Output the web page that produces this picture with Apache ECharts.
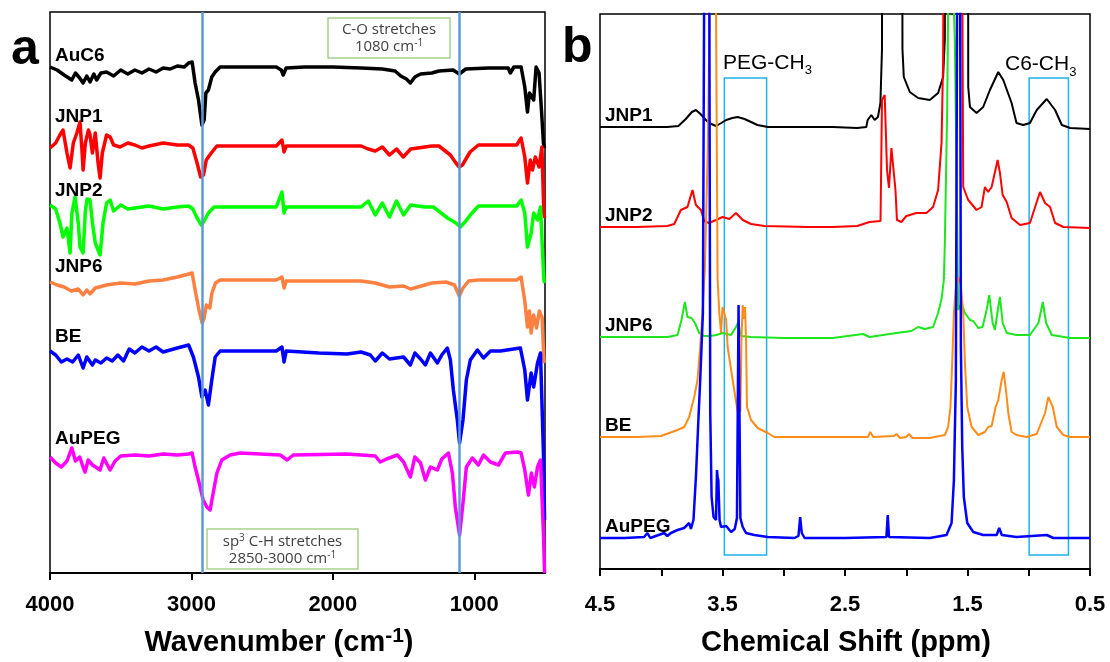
<!DOCTYPE html>
<html><head><meta charset="utf-8">
<script src="https://cdn.jsdelivr.net/npm/echarts@6/dist/echarts.min.js"></script>
<style>html,body{margin:0;padding:0;background:#fff}#c{width:1110px;height:662px}</style>
</head><body><div id="c"></div>
<script>
// ---------- Panel a: FTIR (x = wavenumber cm-1, y = offset intensity, arbitrary units) ----------
const irTicks = [4000, 3000, 2000, 1000];
const irMarkers = [2920, 1105];
const irAuC6 = [[4000,506],[3950,503],[3900,498],[3846,493],[3820,500],[3790,495],[3766,490],[3740,497],[3717,491],[3690,499],[3670,493],[3640,500],[3600,501],[3550,497],[3500,503],[3450,499],[3400,503],[3350,500],[3300,504],[3250,501],[3200,505],[3150,504],[3100,507],[3050,506],[3020,510],[2995,511],[2974,490],[2950,473],[2926,448],[2910,453],[2898,480],[2880,483],[2856,496],[2832,501],[2797,506],[2600,506],[2400,506],[2365,503],[2351,498],[2330,505],[2200,506],[2000,506],[1800,505],[1650,504],[1560,502],[1520,497],[1480,494],[1452,490],[1420,496],[1380,499],[1300,500],[1250,502],[1150,503],[1106,499],[1060,504],[900,505],[760,505],[745,500],[720,506],[669,506],[643,486],[624,461],[610,480],[598,480],[580,473],[563,506],[542,500],[525,463],[511,430],[503,425]];
const irJNP1 = [[4000,425],[3960,430],[3930,438],[3908,443],[3880,420],[3858,405],[3835,430],[3810,440],[3788,451],[3775,425],[3766,403],[3750,430],[3728,443],[3717,438],[3700,420],[3680,440],[3660,410],[3646,395],[3630,420],[3600,438],[3575,436],[3550,428],[3505,426],[3450,430],[3400,428],[3350,425],[3300,427],[3200,430],[3100,428],[3020,428],[2990,425],[2960,410],[2935,396],[2915,398],[2895,413],[2860,420],[2820,427],[2400,427],[2360,433],[2345,421],[2330,427],[1800,427],[1750,424],[1700,422],[1650,426],[1600,418],[1550,424],[1502,416],[1450,424],[1300,427],[1250,427],[1169,418],[1130,410],[1106,406],[1084,408],[1030,421],[971,428],[700,428],[669,435],[643,416],[624,390],[604,413],[589,403],[568,416],[542,406],[522,426],[508,360],[503,355]];
const irJNP2 = [[4000,368],[3960,364],[3930,350],[3908,336],[3880,345],[3858,320],[3845,360],[3823,376],[3800,350],[3788,326],[3766,320],[3750,362],[3738,374],[3717,373],[3700,350],[3680,330],[3646,318],[3625,350],[3600,370],[3575,373],[3550,362],[3500,368],[3450,364],[3400,365],[3300,367],[3200,364],[3100,366],[3020,367],[2990,364],[2960,355],[2930,348],[2910,352],[2880,360],[2840,366],[2400,366],[2360,381],[2345,360],[2330,366],[1800,366],[1750,372],[1700,358],[1650,370],[1600,356],[1550,372],[1500,358],[1450,368],[1350,366],[1289,366],[1190,355],[1130,350],[1098,346],[1060,352],[1028,358],[971,367],[700,367],[669,373],[643,360],[624,326],[598,340],[580,360],[553,353],[532,366],[518,367],[508,293],[503,290]];
const irJNP6 = [[4000,291],[3950,288],[3900,286],[3850,282],[3800,284],[3766,278],[3740,283],[3717,279],[3680,285],[3600,288],[3500,290],[3400,289],[3300,292],[3200,293],[3100,296],[3020,299],[2995,300],[2970,280],[2945,262],[2924,250],[2910,255],[2895,268],[2870,265],[2855,280],[2830,290],[2797,293],[2400,293],[2360,296],[2345,285],[2330,292],[1800,292],[1700,290],[1600,286],[1500,287],[1450,284],[1300,290],[1200,291],[1140,288],[1106,277],[1080,285],[1040,292],[971,293],[700,293],[669,296],[643,272],[624,246],[610,262],[598,240],[580,258],[560,245],[540,262],[520,255],[508,213],[503,210]];
const irBE = [[4000,222],[3960,218],[3920,211],[3880,214],[3840,211],[3800,218],[3766,205],[3740,216],[3700,208],[3680,213],[3640,210],[3600,215],[3560,212],[3520,218],[3480,212],[3440,224],[3400,220],[3350,226],[3300,222],[3250,226],[3200,221],[3100,225],[3020,228],[2986,216],[2950,196],[2926,176],[2903,183],[2880,168],[2856,193],[2832,216],[2797,222],[2400,222],[2360,226],[2345,211],[2330,222],[2100,220],[1900,219],[1800,221],[1735,218],[1700,212],[1650,220],[1600,214],[1500,216],[1452,208],[1420,220],[1380,214],[1346,208],[1310,220],[1261,210],[1230,218],[1191,225],[1169,213],[1148,183],[1120,153],[1104,130],[1080,153],[1056,193],[1028,213],[978,223],[935,215],[886,222],[815,222],[674,225],[669,225],[643,203],[624,173],[598,200],[580,186],[553,210],[532,220],[511,120],[503,53]];
const irAuPEG = [[4000,116],[3960,110],[3920,106],[3880,112],[3846,125],[3820,112],[3790,116],[3766,106],[3752,101],[3730,113],[3700,108],[3646,103],[3620,115],[3575,103],[3540,112],[3500,117],[3400,118],[3300,117],[3200,119],[3100,118],[3020,119],[2995,120],[2974,106],[2945,90],[2917,73],[2891,66],[2868,63],[2846,80],[2820,100],[2785,113],[2726,118],[2655,120],[2372,118],[2323,113],[2280,118],[1900,119],[1700,117],[1665,111],[1620,114],[1544,118],[1500,111],[1452,96],[1420,116],[1380,110],[1346,93],[1310,106],[1261,103],[1230,114],[1183,120],[1155,100],[1134,66],[1104,38],[1080,70],[1056,106],[1014,115],[971,108],[935,118],[886,111],[829,108],[780,120],[695,121],[669,120],[643,103],[617,78],[596,100],[575,86],[553,106],[532,113],[511,40],[503,0]];

// ---------- Panel b: 1H NMR (x = ppm, y = offset intensity, arbitrary units) ----------
const nmrLabels = [4.5, 3.5, 2.5, 1.5, 0.5];
const nmrTicks = [4.5, 4.0, 3.5, 3.0, 2.5, 2.0, 1.5, 1.0, 0.5];
const pegBox = [3.485, 3.14];
const c6Box = [0.997, 0.676];
const boxY = [14, 491];
const nmrJNP1 = [[4.5,442],[4.2,442],[3.95,442],[3.86,443],[3.8,450],[3.75,457],[3.717,459],[3.68,455],[3.635,449],[3.61,446],[3.553,443],[3.51,446],[3.47,449],[3.42,451],[3.376,452],[3.32,450],[3.267,447],[3.215,444],[3.13,442],[2.8,442],[2.6,442],[2.4,441],[2.326,442],[2.315,449],[2.285,454],[2.258,449],[2.231,452],[2.211,466],[2.198,520],[2.19,1500],[2.04,1500],[2.031,520],[2.02,492],[1.971,477],[1.903,471],[1.808,469],[1.74,476],[1.699,492],[1.685,530],[1.677,1500],[1.50,1500],[1.494,482],[1.48,462],[1.426,456],[1.372,462],[1.317,479],[1.249,497],[1.208,489],[1.14,466],[1.1,446],[1.045,444],[0.99,446],[0.935,459],[0.853,470],[0.785,459],[0.73,444],[0.662,441],[0.5,440]];
const nmrJNP2 = [[4.5,342],[4.2,342],[3.95,343],[3.894,345],[3.84,359],[3.786,362],[3.745,379],[3.717,364],[3.676,359],[3.65,348],[3.61,346],[3.553,349],[3.499,352],[3.444,350],[3.39,356],[3.335,349],[3.267,345],[3.158,343],[2.8,342],[2.6,342],[2.4,343],[2.3,347],[2.21,348],[2.198,469],[2.176,474],[2.157,399],[2.141,381],[2.121,421],[2.108,420],[2.088,379],[2.076,349],[2.04,347],[1.999,353],[1.917,356],[1.835,356],[1.781,362],[1.74,379],[1.712,426],[1.699,509],[1.69,800],[1.55,800],[1.535,382],[1.494,369],[1.426,359],[1.385,362],[1.358,382],[1.331,377],[1.303,382],[1.254,409],[1.235,396],[1.213,374],[1.18,367],[1.14,351],[1.071,344],[0.99,346],[0.935,367],[0.908,377],[0.867,366],[0.826,362],[0.785,346],[0.717,342],[0.5,341]];
const nmrJNP6 = [[4.5,232],[4.2,232],[3.95,232],[3.867,234],[3.835,249],[3.807,267],[3.786,252],[3.753,251],[3.725,246],[3.69,236],[3.65,233],[3.6,233],[3.55,234],[3.499,236],[3.43,234],[3.39,242],[3.371,247],[3.349,233],[3.267,232],[3.0,231],[2.6,231],[2.353,235],[2.3,232],[2.08,236],[1.958,238],[1.903,242],[1.849,240],[1.781,242],[1.74,256],[1.712,270],[1.693,289],[1.685,326],[1.666,459],[1.658,560],[1.635,1200],[1.611,560],[1.603,526],[1.589,392],[1.576,259],[1.548,266],[1.521,256],[1.48,249],[1.453,248],[1.412,241],[1.377,242],[1.344,259],[1.322,274],[1.295,246],[1.276,239],[1.249,262],[1.235,272],[1.213,246],[1.18,236],[1.1,234],[0.99,234],[0.921,246],[0.885,267],[0.858,246],[0.812,234],[0.662,231],[0.5,231]];
const nmrBE = [[4.5,132],[4.2,132],[4.003,133],[3.867,139],[3.813,142],[3.772,152],[3.731,172],[3.704,189],[3.682,222],[3.663,256],[3.644,300],[3.62,420],[3.6,600],[3.575,900],[3.565,900],[3.553,560],[3.54,290],[3.526,256],[3.512,236],[3.50,262],[3.47,249],[3.458,222],[3.417,189],[3.376,157],[3.354,158],[3.345,230],[3.335,264],[3.325,250],[3.316,262],[3.308,230],[3.3,162],[3.267,149],[3.213,141],[3.131,136],[3.076,132],[2.8,132],[2.5,132],[2.313,132],[2.293,137],[2.27,132],[2.1,133],[2.08,135],[2.05,131],[2.0,132],[1.977,135],[1.95,131],[1.808,131],[1.685,134],[1.658,142],[1.639,162],[1.625,206],[1.611,256],[1.597,279],[1.575,292],[1.555,285],[1.535,256],[1.521,206],[1.502,162],[1.466,142],[1.412,134],[1.358,137],[1.331,142],[1.303,143],[1.27,162],[1.249,169],[1.221,189],[1.205,197],[1.186,179],[1.167,156],[1.14,137],[1.1,134],[1.018,132],[0.935,135],[0.867,156],[0.84,172],[0.826,174],[0.804,162],[0.771,142],[0.717,134],[0.662,132],[0.5,132]];
const nmrAuPEG = [[4.5,31],[4.3,31],[4.14,32],[4.113,36],[4.09,31],[3.976,36],[3.95,33],[3.921,36],[3.867,39],[3.813,41],[3.772,46],[3.758,40],[3.737,49],[3.717,92],[3.698,146],[3.682,189],[3.671,222],[3.66,256],[3.649,600],[3.64,1500],[3.625,900],[3.615,1500],[3.608,600],[3.6,156],[3.589,72],[3.573,52],[3.553,49],[3.545,99],[3.54,92],[3.534,89],[3.524,49],[3.512,42],[3.47,43],[3.43,37],[3.40,40],[3.382,51],[3.369,264],[3.354,51],[3.335,42],[3.308,36],[3.24,34],[3.131,32],[2.913,31],[2.88,33],[2.866,52],[2.853,36],[2.83,31],[2.5,31],[2.162,32],[2.151,54],[2.141,32],[1.808,31],[1.671,34],[1.63,46],[1.611,89],[1.595,189],[1.584,600],[1.575,1500],[1.565,1500],[1.554,222],[1.543,122],[1.53,72],[1.502,46],[1.453,37],[1.372,34],[1.262,34],[1.241,41],[1.22,34],[1.1,32],[0.853,34],[0.8,31],[0.5,31]];

const FONT = 'Liberation Sans, Arial, sans-serif';

function irLine(name, data, color) {
  return { name, type: 'line', xAxisIndex: 0, yAxisIndex: 0, data, symbol: 'none', showSymbol: false,
    silent: true, clip: true, lineStyle: { color, width: 3.5, join: 'round' }, itemStyle: { color } };
}
function nmrLine(name, data, color, w) {
  return { name, type: 'line', xAxisIndex: 1, yAxisIndex: 1, data, symbol: 'none', showSymbol: false,
    silent: true, clip: true, lineStyle: { color, width: w || 2 }, itemStyle: { color } };
}
function label(text, x, y, size) {
  return { type: 'text', z: 100, silent: true,
    style: { text, x, y, font: 'bold ' + size + 'px ' + FONT, fill: '#000',
      align: 'left', verticalAlign: 'middle', textAlign: 'left', textVerticalAlign: 'middle' } };
}
function richText(text, x, y, align, vAlign, rich) {
  return { type: 'text', z: 100, silent: true,
    style: { text, x, y, align, verticalAlign: vAlign, textAlign: align, textVerticalAlign: vAlign, rich } };
}

const boxTextRich = {
  n: { fontSize: 15, fontFamily: 'Open Sans, ' + FONT, fill: '#404040', lineHeight: 17 },
  s: { fontSize: 10, fontFamily: 'Open Sans, ' + FONT, fill: '#404040', lineHeight: 10, verticalAlign: 'top' }
};
const titleRich = {
  m: { fontSize: 29, fontWeight: 'bold', fontFamily: FONT, fill: '#000', lineHeight: 34 },
  s: { fontSize: 21, fontWeight: 'bold', fontFamily: FONT, fill: '#000', lineHeight: 21, verticalAlign: 'top' }
};
const subRich = {
  m: { fontSize: 21, fontFamily: FONT, fill: '#000', lineHeight: 28 },
  s: { fontSize: 13, fontFamily: FONT, fill: '#000', lineHeight: 13, verticalAlign: 'bottom' }
};

const chart = echarts.init(document.getElementById('c'), null, { renderer: 'canvas' });
chart.setOption({
  animation: false,
  backgroundColor: '#fff',
  grid: [
    { left: 50, top: 12, width: 495, height: 561, show: true, borderColor: '#000', borderWidth: 1.5, backgroundColor: 'transparent' },
    { left: 600, top: 14, width: 490, height: 555, show: true, borderColor: '#000', borderWidth: 1.5, backgroundColor: 'transparent' }
  ],
  xAxis: [
    { type: 'value', gridIndex: 0, min: 500, max: 4000, inverse: true,
      axisLine: { show: true, onZero: false, lineStyle: { color: '#000', width: 2 } },
      axisTick: { show: true, customValues: irTicks, length: 7, inside: false, lineStyle: { color: '#000', width: 2 } },
      axisLabel: { customValues: irTicks, fontSize: 22, fontWeight: 'bold', color: '#000', fontFamily: FONT, margin: 21,
        formatter: v => String(Math.round(v)) },
      splitLine: { show: false } },
    { type: 'value', gridIndex: 1, min: 0.5, max: 4.5, inverse: true,
      axisLine: { show: true, onZero: false, lineStyle: { color: '#000', width: 2 } },
      axisTick: { show: true, customValues: nmrTicks, length: 7, inside: false, lineStyle: { color: '#000', width: 2 } },
      axisLabel: { customValues: nmrLabels, fontSize: 22, fontWeight: 'bold', color: '#000', fontFamily: FONT, margin: 25,
        formatter: v => Number(v).toFixed(1) },
      splitLine: { show: false } }
  ],
  yAxis: [
    { type: 'value', gridIndex: 0, min: 0, max: 561, show: false, splitLine: { show: false } },
    { type: 'value', gridIndex: 1, min: 0, max: 555, show: false, splitLine: { show: false } }
  ],
  series: [
    irLine('AuC6', irAuC6, '#000000'),
    irLine('JNP1', irJNP1, '#ff0000'),
    irLine('JNP2', irJNP2, '#00ff00'),
    irLine('JNP6', irJNP6, '#ff8040'),
    irLine('BE', irBE, '#0000ff'),
    irLine('AuPEG', irAuPEG, '#ff00ff'),
    { name: 'markers', type: 'line', xAxisIndex: 0, yAxisIndex: 0, data: [], silent: true, z: 5,
      markLine: { silent: true, symbol: ['none', 'none'], label: { show: false }, animation: false,
        lineStyle: { color: '#5b9bd5', width: 2.5, type: 'solid' },
        data: irMarkers.map(v => ({ xAxis: v })) } },
    nmrLine('JNP1', nmrJNP1, '#000000'),
    nmrLine('JNP2', nmrJNP2, '#ff0000'),
    nmrLine('JNP6', nmrJNP6, '#1ee61e'),
    nmrLine('BE', nmrBE, '#ff8c1a'),
    nmrLine('AuPEG', nmrAuPEG, '#0000ff', 2.5),
    { name: 'boxes', type: 'line', xAxisIndex: 1, yAxisIndex: 1, data: [], silent: true, z: 5,
      markArea: { silent: true, animation: false,
        itemStyle: { color: 'rgba(0,0,0,0)', borderColor: '#1eb2e8', borderWidth: 1.5 },
        data: [
          [{ xAxis: pegBox[0], yAxis: boxY[0] }, { xAxis: pegBox[1], yAxis: boxY[1] }],
          [{ xAxis: c6Box[0], yAxis: boxY[0] }, { xAxis: c6Box[1], yAxis: boxY[1] }]
        ] } }
  ],
  graphic: [
    label('a', 11, 50, 50),
    label('b', 562, 48, 50),
    label('AuC6', 55, 55.4, 19),
    label('JNP1', 55, 116.4, 19),
    label('JNP2', 55, 190.4, 19),
    label('JNP6', 55, 266.4, 19),
    label('BE', 55, 336.4, 19),
    label('AuPEG', 55, 438.4, 19),
    label('JNP1', 605, 115.4, 19),
    label('JNP2', 605, 215.4, 19),
    label('JNP6', 605, 325.4, 19),
    label('BE', 605, 425.4, 19),
    label('AuPEG', 605, 526.4, 19),
    { type: 'rect', z: 90, silent: true, shape: { x: 328, y: 18, width: 122, height: 40 },
      style: { fill: '#fff', stroke: '#a9d18e', lineWidth: 1.5 } },
    richText('{n|C-O stretches}\n{n|1080 cm}{s|-1}', 389, 38.5, 'center', 'middle', boxTextRich),
    { type: 'rect', z: 90, silent: true, shape: { x: 207, y: 529, width: 151, height: 40 },
      style: { fill: '#fff', stroke: '#a9d18e', lineWidth: 1.5 } },
    richText('{n|sp}{s|3}{n| C-H stretches}\n{n|2850-3000 cm}{s|-1}', 282.5, 550, 'center', 'middle', boxTextRich),
    richText('{m|PEG-CH}{s|3}', 723, 49, 'left', 'top', subRich),
    richText('{m|C6-CH}{s|3}', 1005, 50.5, 'left', 'top', subRich),
    richText('{m|Wavenumber (cm}{s|-1}{m|)}', 279, 643, 'center', 'middle', titleRich),
    richText('{m|Chemical Shift (ppm)}', 846, 643, 'center', 'middle', titleRich)
  ]
});
</script>
</body></html>
